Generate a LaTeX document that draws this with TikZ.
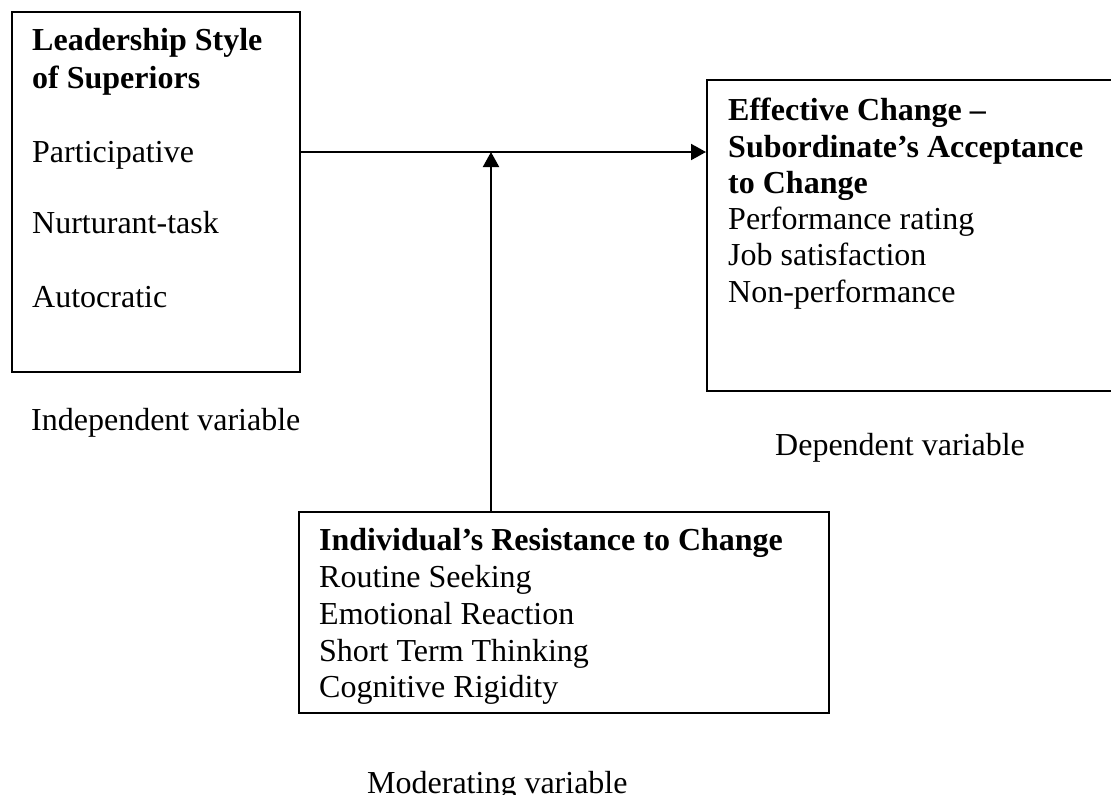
\documentclass[tikz,border=0pt]{standalone}
\usepackage{fontspec}
\setmainfont{Liberation Serif}
\usetikzlibrary{arrows.meta}
\tikzset{
  box/.style={draw, line width=2pt, inner sep=0pt, anchor=north west},
  txt/.style={anchor=base west, inner sep=0pt, font=\fontsize{32}{36}\selectfont},
  hd/.style={txt, font=\fontsize{32}{36}\selectfont\bfseries},
  conn/.style={line width=2pt, -{Triangle[length=15pt,width=16pt]}}
}
\begin{document}
\begin{tikzpicture}[x=1pt,y=-1pt]
\useasboundingbox (0,0) rectangle (1111,795);
% boxes
\node[box, minimum width=288pt, minimum height=360pt] (L) at (11,11) {};
\node[box, minimum width=430pt, minimum height=311pt] (R) at (706,79) {};
\node[box, minimum width=530pt, minimum height=201pt] (B) at (298,511) {};
% left box text
\node[hd] (l1) at (32,50) {Leadership Style};
\node[hd] (l2) at (32,88) {of Superiors};
\node[txt] (l3) at (32,162) {Participative};
\node[txt] (l4) at (32,233) {Nurturant-task};
\node[txt] (l5) at (32,307) {Autocratic};
% right box text
\node[hd] (r1) at (728,120) {Effective Change –};
\node[hd] (r2) at (728,157) {Subordinate’s Acceptance};
\node[hd] (r3) at (728,193) {to Change};
\node[txt] (r4) at (728,229) {Performance rating};
\node[txt] (r5) at (728,265) {Job satisfaction};
\node[txt] (r6) at (728,302) {Non-performance};
% bottom box text
\node[hd] (b1) at (319,550) {Individual’s Resistance to Change};
\node[txt] (b2) at (319,587) {Routine Seeking};
\node[txt] (b3) at (319,624) {Emotional Reaction};
\node[txt] (b4) at (319,661) {Short Term Thinking};
\node[txt] (b5) at (319,697) {Cognitive Rigidity};
% labels
\node[txt] (iv) at (31,430) {Independent variable};
\node[txt] (dv) at (775,455) {Dependent variable};
\node[txt] (mv) at (367,793) {Moderating variable};
% connectors
\coordinate (m) at (491,152);
\draw[conn] (L.east |- m) -- (R.west |- m);
\draw[conn] (B.north -| m) -- (m);
\end{tikzpicture}
\end{document}
